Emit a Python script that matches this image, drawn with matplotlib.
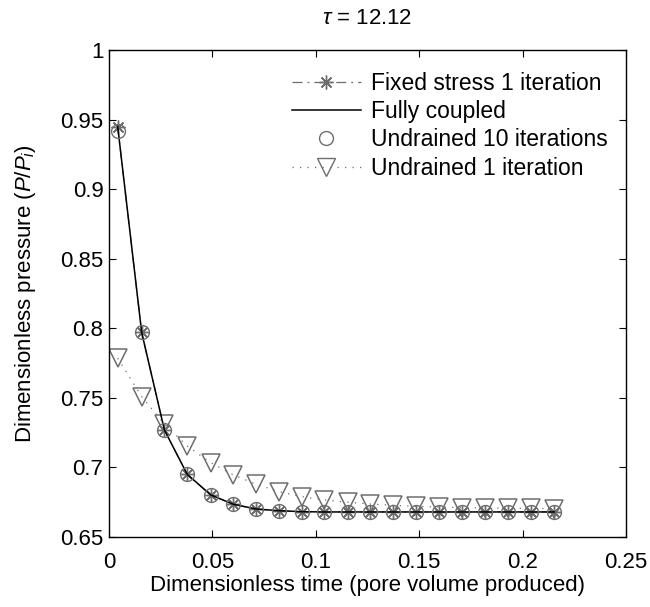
import numpy as np
import matplotlib
matplotlib.use("Agg")
import matplotlib.pyplot as plt
from matplotlib.lines import Line2D

# -----------------------
# Data
# -----------------------
t = [0.0042, 0.0158, 0.0268, 0.0378, 0.0492, 0.0602, 0.0712, 0.0822, 0.0932, 0.1042,
     0.1154, 0.1263, 0.1373, 0.1483, 0.1597, 0.1707, 0.1817, 0.1929, 0.2039, 0.2153]

fully_coupled = [0.9450, 0.7970, 0.7269, 0.6951, 0.6802, 0.6735, 0.6701, 0.6689, 0.6682, 0.6680,
                 0.6680, 0.6680, 0.6680, 0.6680, 0.6680, 0.6680, 0.6680, 0.6680, 0.6680, 0.6680]
fixed_stress_1 = [0.9447, 0.7970, 0.7269, 0.6951, 0.6802, 0.6735, 0.6701, 0.6689, 0.6682, 0.6680,
                  0.6680, 0.6680, 0.6680, 0.6680, 0.6680, 0.6680, 0.6680, 0.6680, 0.6680, 0.6680]
undrained_10 = [0.9419, 0.7970, 0.7269, 0.6951, 0.6802, 0.6735, 0.6701, 0.6689, 0.6682, 0.6680,
                0.6680, 0.6680, 0.6680, 0.6680, 0.6680, 0.6680, 0.6680, 0.6680, 0.6680, 0.6680]
undrained_1 = [0.7785, 0.7509, 0.7312, 0.7154, 0.7034, 0.6946, 0.6879, 0.6826, 0.6790, 0.6766,
               0.6750, 0.6737, 0.6728, 0.6720, 0.6715, 0.6712, 0.6709, 0.6707, 0.6705, 0.6704]

x_ticks = [0, 0.05, 0.1, 0.15, 0.2, 0.25]
x_ticklabels = ["0", "0.05", "0.1", "0.15", "0.2", "0.25"]
y_ticks = [0.65, 0.7, 0.75, 0.8, 0.85, 0.9, 0.95, 1.0]
y_ticklabels = ["0.65", "0.7", "0.75", "0.8", "0.85", "0.9", "0.95", "1"]

# -----------------------
# Style
# -----------------------
plt.rcParams["font.family"] = ["Liberation Sans", "DejaVu Sans"]
plt.rcParams["mathtext.fontset"] = "custom"
plt.rcParams["mathtext.rm"] = "Liberation Sans"
plt.rcParams["mathtext.it"] = "Liberation Sans:italic"
FS = 16
GREY = "#6e6e6e"
STAR = (8, 2, 0)

fig = plt.figure(figsize=(6.5, 6.07), dpi=100)
ax = fig.add_axes([109 / 650, 70 / 607, 517 / 650, 487 / 607])

ax.plot(t, fully_coupled, color="black", linewidth=1.1, zorder=3)
ax.plot(t, undrained_10, linestyle="none", marker="o", markersize=10,
        markerfacecolor="none", markeredgecolor=GREY, markeredgewidth=1.0, zorder=4)
ax.plot(t, fixed_stress_1, linestyle=(0, (8, 4, 1.5, 4)), color=GREY, linewidth=0.9,
        marker=STAR, markersize=10, markeredgewidth=1.0, zorder=2)
ax.plot(t, undrained_1, linestyle=(0, (1, 5)), color=GREY, linewidth=0.9,
        marker="v", markersize=13, markerfacecolor="none", markeredgecolor=GREY,
        markeredgewidth=1.1, zorder=2)

ax.set_xlim(0, 0.25)
ax.set_ylim(0.65, 1.0)
ax.set_xticks(x_ticks)
ax.set_xticklabels(x_ticklabels)
ax.set_yticks(y_ticks)
ax.set_yticklabels(y_ticklabels)
ax.tick_params(direction="in", length=5, width=0.8, top=True, right=True,
               labelsize=FS)
ax.tick_params(axis="x", pad=11)
ax.tick_params(axis="y", pad=4)
for sp in ax.spines.values():
    sp.set_linewidth(1.0)

ax.set_title(r"$\tau$ = 12.12", fontsize=FS, pad=19)
ax.set_xlabel("Dimensionless time (pore volume produced)", fontsize=FS, labelpad=1.5)
ax.set_ylabel(r"Dimensionless pressure ($P/P_i$)", fontsize=FS, labelpad=16)

handles = [
    Line2D([], [], linestyle=(0, (8, 4, 1.5, 4)), color=GREY, linewidth=0.9,
           marker=STAR, markersize=10, markeredgewidth=1.0),
    Line2D([], [], color="black", linewidth=1.1),
    Line2D([], [], linestyle="none", marker="o", markersize=10,
           markerfacecolor="none", markeredgecolor=GREY),
    Line2D([], [], linestyle=(0, (1, 5)), color=GREY, linewidth=0.9, marker="v",
           markersize=13, markerfacecolor="none", markeredgecolor=GREY),
]
labels = ["Fixed stress 1 iteration", "Fully coupled",
          "Undrained 10 iterations", "Undrained 1 iteration"]
ax.legend(handles, labels, loc="upper left", bbox_to_anchor=(0.354, 0.954),
          frameon=False, fontsize=16.5, borderpad=0, borderaxespad=0,
          handlelength=3.0, handletextpad=0.44, labelspacing=0.22)

fig.savefig("out.png", dpi=100)
